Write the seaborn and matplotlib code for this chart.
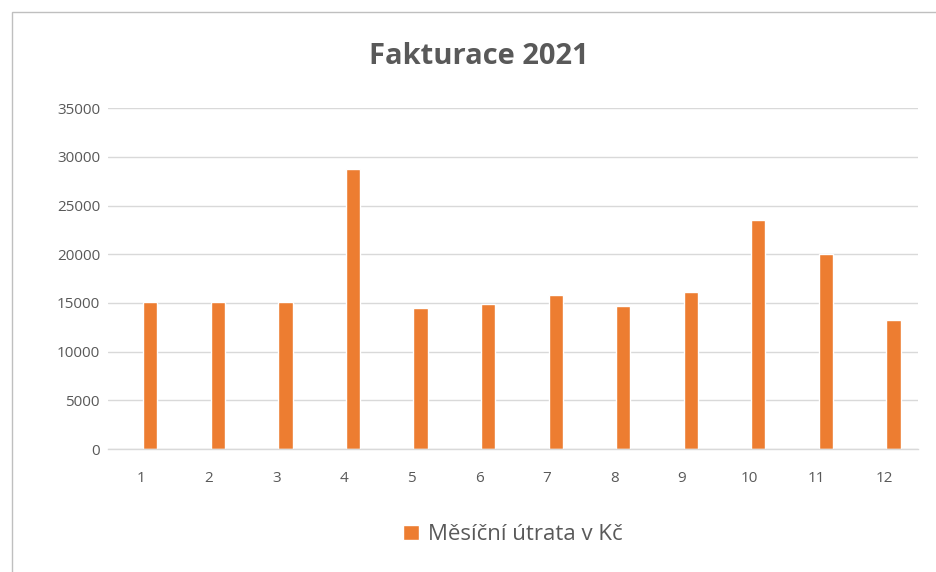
import numpy as np
import pandas as pd
import matplotlib.pyplot as plt
import seaborn as sns
from matplotlib.patches import Rectangle

# DATA
months = [1, 2, 3, 4, 5, 6, 7, 8, 9, 10, 11, 12]
spend = [15050, 15050, 15050, 28700, 14500, 14870, 15850, 14660, 16090, 23480, 20070, 13260]
series_name = 'Měsíční útrata v Kč'
y_ticks = [0, 5000, 10000, 15000, 20000, 25000, 30000, 35000]

df = pd.DataFrame({'Mesic': [str(m) for m in months], 'Utrata': spend})

sns.set_theme(style='white')
plt.rcParams['font.family'] = ['Open Sans', 'DejaVu Sans']

text_color = '#595959'
bar_color = '#ED7D31'
grid_color = '#D9D9D9'

fig = plt.figure(figsize=(9.36, 5.72), dpi=100)
ax = fig.add_axes([0.115, 0.215, 0.866, 0.596])

sns.barplot(
    data=df,
    x='Mesic',
    y='Utrata',
    color=bar_color,
    width=0.21,
    saturation=1,
    label=series_name,
    ax=ax
)

# bars sit a little right of the category centre, like in the original
for p in ax.patches:
    p.set_x(p.get_x() + 0.133)

ax.set_xlim(-0.5, len(months) - 0.5)
ax.set_ylim(0, 35000)
ax.set_yticks(y_ticks)
ax.set_yticklabels([str(v) for v in y_ticks])
ax.yaxis.grid(True, color=grid_color, linewidth=1)
ax.set_axisbelow(True)

for side in ['top', 'right', 'left']:
    ax.spines[side].set_visible(False)
ax.spines['bottom'].set_color(grid_color)
ax.spines['bottom'].set_linewidth(1)

ax.tick_params(axis='both', length=0, colors=text_color, labelsize=11)
ax.tick_params(axis='y', pad=5.5)
ax.tick_params(axis='x', pad=16)
ax.set_xlabel('')
ax.set_ylabel('')

fig.text(
    0.512, 0.902,
    'Fakturace 2021',
    ha='center', va='center',
    fontsize=21,
    fontweight='bold',
    color=text_color
)

ax.legend(
    loc='center',
    bbox_to_anchor=(0.5, -0.252),
    frameon=False,
    fontsize=16,
    labelcolor=text_color,
    handlelength=0.7,
    handleheight=0.7,
    handletextpad=0.4
)

# chart area border
fig.patches.append(Rectangle(
    (12 / 936, -0.1), 1.2, 1.1 - 12 / 572,
    transform=fig.transFigure,
    fill=False,
    edgecolor='#BFBFBF',
    linewidth=1
))

fig.savefig('out.png', dpi=100)
